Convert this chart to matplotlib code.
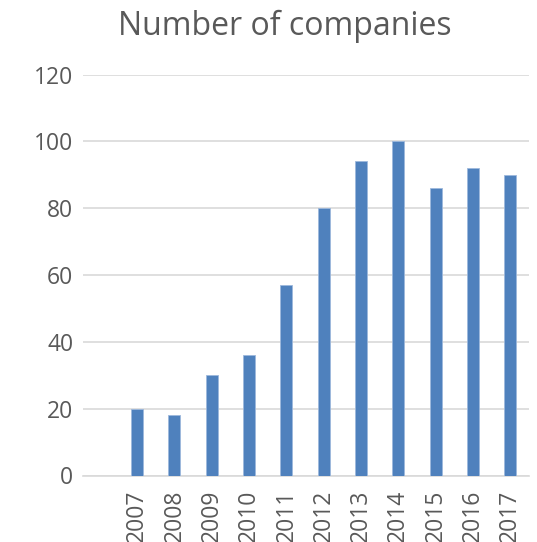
import matplotlib

matplotlib.use("Agg")
import matplotlib.pyplot as plt

years = ["2007", "2008", "2009", "2010", "2011", "2012", "2013", "2014", "2015", "2016", "2017"]
companies = [20, 18, 30, 36, 57, 80, 94, 100, 86, 92, 90]
y_ticks = [0, 20, 40, 60, 80, 100, 120]

TEXT = "#595959"
BAR = "#4F81BD"
GRID = "#D9D9D9"

plt.rcParams["font.family"] = ["Open Sans", "DejaVu Sans"]

fig = plt.figure(figsize=(5.37, 5.42), dpi=100)
ax = fig.add_axes([83 / 537, 1 - 475.5 / 542, 446 / 537, 401 / 542])

x = list(range(len(years)))
ax.bar(x, companies, width=0.32, color=BAR, edgecolor="#9DB8DC", linewidth=0.6, zorder=3)

ax.set_ylim(0, 120)
ax.set_xlim(-1.45, 10.5)
ax.set_yticks(y_ticks)
ax.set_xticks(x)
ax.set_xticklabels(years, rotation=90)
ax.yaxis.grid(True, color=GRID, linewidth=1.2, zorder=0)
ax.tick_params(axis="both", length=0, labelsize=16.5, colors=TEXT)
ax.tick_params(axis="x", pad=10)
ax.tick_params(axis="y", pad=7)
for side in ["top", "right", "left"]:
    ax.spines[side].set_visible(False)
ax.spines["bottom"].set_color(GRID)
ax.spines["bottom"].set_linewidth(1.2)

fig.text(0.530, 0.952, "Number of companies", ha="center", va="center", fontsize=23, color=TEXT)

fig.savefig("out.png", dpi=100, facecolor="white")
